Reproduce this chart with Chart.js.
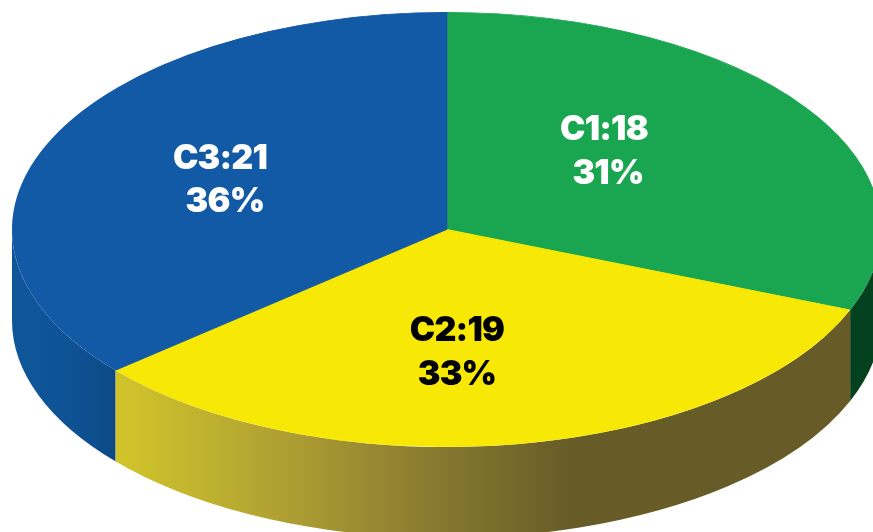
<!DOCTYPE html>
<html>
<head>
<meta charset="utf-8">
<style>
html,body{margin:0;padding:0;background:#fff;overflow:hidden}
canvas{display:block}
</style>
<script src="https://cdn.jsdelivr.net/npm/chart.js@4"></script>
</head>
<body>
<canvas id="c" width="873" height="532"></canvas>
<script>
const categories = ['C1', 'C2', 'C3'];
const values = [18, 19, 21];
const topColors = ['#1aa651', '#f7e806', '#1259a6'];
const textColors = ['#ffffff', '#000000', '#ffffff'];
// side wall shading: [x start, x end, [stop, colour]...]
const wallShades = [
  [851, 873, [[0, '#03411f'], [1, '#03411f']]],
  [115, 851, [[0, '#d2c52a'], [0.12, '#c0b22f'], [0.25, '#ab9c33'], [0.45, '#85772f'], [0.62, '#675c28'], [1, '#675c28']]],
  [12, 115, [[0, '#0f5699'], [0.6, '#0e5294'], [1, '#0c4a86']]]
];
// label spots [x, baseline, x, baseline]
const labelSpots = [[604, 140, 608, 184], [457, 341, 457, 385], [220, 169, 225, 212]];

const cx = 446.5, cy = 229.5, rx = 434.5, ry = 217.5, depth = 91;

const pie3d = {
  id: 'pie3d',
  beforeDatasetsDraw(chart) {
    const ctx = chart.ctx;
    const arcs = chart.getDatasetMeta(0).data;
    arcs.forEach((arc, i) => {
      const a0 = Math.max(arc.startAngle, 0);
      const a1 = Math.min(arc.endAngle, Math.PI);
      if (a1 <= a0) return;
      const s = wallShades[i];
      const g = ctx.createLinearGradient(s[0], 0, s[1], 0);
      s[2].forEach(p => g.addColorStop(p[0], p[1]));
      ctx.beginPath();
      ctx.ellipse(cx, cy, rx, ry, 0, a0, a1);
      ctx.ellipse(cx, cy + depth, rx, ry, 0, a1, a0, true);
      ctx.closePath();
      ctx.fillStyle = g;
      ctx.fill();
    });
    const arc = arcs[0];
    const R = arc.outerRadius + 0.5;
    ctx.save();
    ctx.translate(cx, cy);
    ctx.scale(rx / R, ry / R);
    ctx.translate(-arc.x, -arc.y);
  },
  afterDatasetsDraw(chart) {
    const ctx = chart.ctx;
    ctx.restore();
    const total = values.reduce((a, b) => a + b, 0);
    ctx.save();
    ctx.font = '900 34px Inter, sans-serif';
    ctx.letterSpacing = '-0.8px';
    ctx.textAlign = 'center';
    ctx.textBaseline = 'alphabetic';
    categories.forEach((name, i) => {
      const p = labelSpots[i];
      ctx.fillStyle = textColors[i];
      ctx.fillText(name + ':' + values[i], p[0], p[1]);
      ctx.fillText(Math.round(values[i] / total * 100) + '%', p[2], p[3]);
    });
    ctx.restore();
  }
};

new Chart(document.getElementById('c'), {
  type: 'pie',
  data: {
    labels: categories,
    datasets: [{
      data: values,
      backgroundColor: topColors,
      borderColor: topColors,
      borderWidth: 1
    }]
  },
  options: {
    responsive: false,
    animation: false,
    layout: { padding: 0 },
    plugins: { legend: { display: false }, tooltip: { enabled: false } }
  },
  plugins: [pie3d]
});
</script>
</body>
</html>
